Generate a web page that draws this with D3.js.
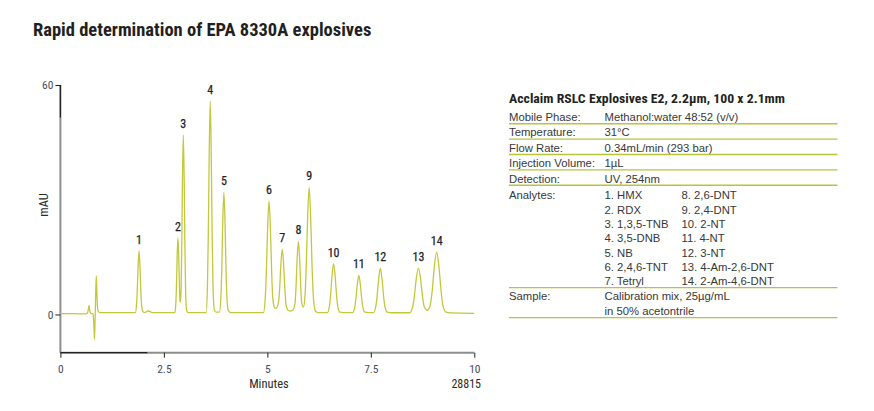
<!DOCTYPE html>
<html><head><meta charset="utf-8">
<script src="https://cdn.jsdelivr.net/npm/d3@7"></script>
<style>
body{margin:0;background:#fff}
svg{display:block}
text{font-family:"Liberation Sans Narrow","Arial Narrow","Roboto Condensed","Liberation Sans",sans-serif}
g.reg text{font-family:"Liberation Sans",Arial,sans-serif}
</style>
</head><body><svg id="c" width="874" height="411"></svg>
<script>
// ---- data ----
const traceMinutes = [0,0.3,0.6,0.655,0.675,0.693,0.71,0.735,0.79,0.808,0.823,0.838,0.853,0.868,0.882,0.897,0.915,0.95,1.3,1.75,
 1.81,1.84,1.858,1.876,1.90,1.924,1.942,1.96,1.99,2.03,2.13,2.22,2.6,
 2.765,2.79,2.805,2.82,2.84,2.86,2.875,2.89,2.90,2.916,2.932,2.948,2.97,2.992,3.008,3.024,3.051,3.09,3.45,
 3.521,3.554,3.574,3.594,3.62,3.646,3.666,3.686,3.719,3.76,3.842,3.878,3.90,3.921,3.95,3.979,4.0,4.022,4.058,4.12,4.8,
 4.905,4.95,4.977,5.004,5.04,5.076,5.103,5.13,5.175,5.21,5.27,5.297,5.324,5.36,5.396,5.423,5.45,5.50,5.56,5.62,5.67,
 5.694,5.718,5.75,5.782,5.806,5.83,5.87,5.91,5.94,5.97,6.01,6.05,6.08,6.11,6.16,6.22,6.45,
 6.50,6.53,6.56,6.60,6.64,6.67,6.70,6.75,6.85,7.06,7.11,7.14,7.17,7.21,7.25,7.28,7.31,7.36,7.45,
 7.565,7.62,7.653,7.686,7.73,7.774,7.807,7.84,7.895,8.0,8.44,8.51,8.552,8.594,8.65,8.706,8.748,8.79,8.87,
 8.94,8.985,9.03,9.09,9.15,9.195,9.24,9.315,9.42,10];
const traceMAU = [0.2,0.2,0.15,0.4,1.3,2.4,0.9,0.3,0.1,-2.5,-6.5,-1.5,5.5,10.1,5.5,1.8,0.8,0.5,0.5,0.5,
 0.5,2.7,6.5,12.2,16.6,12.2,6.5,2.7,0.8,0.5,0.9,0.5,0.5,
 0.5,3.1,7.8,14.7,20.0,14.8,7.9,3.7,3.2,6.8,17.9,34.2,46.9,34.2,17.9,6.8,1.0,0.5,0.5,
 0.5,8.0,21.2,40.6,55.8,40.6,21.2,8.0,1.2,0.6,0.6,4.7,12.3,23.3,31.9,23.3,12.3,4.7,1.0,0.5,0.5,
 0.5,4.4,11.5,21.7,29.7,21.7,11.5,4.4,1.8,1.6,3.2,6.7,12.5,17.1,12.5,6.7,2.7,1.1,0.9,1.2,3.0,
 7.5,14.1,19.2,14.1,7.5,3.0,1.9,4.9,12.8,24.2,33.2,24.2,12.8,4.9,0.9,0.5,0.5,
 2.2,5.3,9.8,13.3,9.8,5.3,2.2,0.6,0.5,0.5,1.8,4.1,7.5,10.2,7.5,4.1,1.8,0.6,0.5,
 0.5,2.1,4.85,8.9,12.1,8.9,4.85,2.1,0.6,0.45,0.45,2.0,4.8,9.0,12.1,9.0,4.8,2.1,1.1,
 2.7,6.4,12.0,16.3,12.0,6.4,2.5,0.6,0.4,0.3];

const peakNumbers = ["1","2","3","4","5","6","7","8","9","10","11","12","13","14"];
const peakMinutes = [1.90,2.84,2.97,3.62,3.95,5.04,5.36,5.75,6.01,6.60,7.21,7.73,8.65,9.09];
const peakMAU = [16.6,20.0,46.9,55.8,31.9,29.7,17.1,19.2,33.2,13.3,10.2,12.1,12.1,16.3];

const xTicks = [0,2.5,5,7.5,10];
const yTicks = [0,60];

const titleText = "Rapid determination of EPA 8330A explosives";
const xLabel = "Minutes";
const yLabel = "mAU";
const figureId = "28815";

const columnTitle = "Acclaim RSLC Explosives E2, 2.2µm, 100 x 2.1mm";
const conditionLabels = ["Mobile Phase:","Temperature:","Flow Rate:","Injection Volume:","Detection:"];
const conditionValues = ["Methanol:water 48:52 (v/v)","31°C","0.34mL/min (293 bar)","1µL","UV, 254nm"];
const analyteLabel = "Analytes:";
const analyteNames = ["1. HMX","2. RDX","3. 1,3,5-TNB","4. 3,5-DNB","5. NB","6. 2,4,6-TNT","7. Tetryl",
  "8. 2,6-DNT","9. 2,4-DNT","10. 2-NT","11. 4-NT","12. 3-NT","13. 4-Am-2,6-DNT","14. 2-Am-4,6-DNT"];
const sampleLabel = "Sample:";
const sampleLines = ["Calibration mix, 25µg/mL","in 50% acetontrile"];

// ---- drawing ----
const svg = d3.select("#c");
const textCol = "#2b2b2b";
const traceCol = "#c3c83a";
const ruleCol = "#b9c43a";

svg.append("text").attr("x",33).attr("y",35.5)
  .attr("font-size",18.5).attr("font-weight","bold").attr("fill","#231f20").text(titleText);

const x = d3.scaleLinear().domain([0,10]).range([60.4,474.3]);
const y = d3.scaleLinear().domain([-10,60]).range([352.7,85]);

// axes
const gx = svg.append("g").attr("transform",`translate(0,${y(-10)})`)
  .call(d3.axisBottom(x).tickValues(xTicks).tickSize(5).tickPadding(7).tickFormat(d3.format("")));
const gy = svg.append("g").attr("transform",`translate(${x(0)},0)`)
  .call(d3.axisLeft(y).tickValues(yTicks).tickSize(5).tickPadding(2));
[gx,gy].forEach(g=>{
  g.select(".domain").attr("stroke","#8e8e8e").attr("stroke-width",2);
  g.selectAll(".tick line").attr("stroke","#222").attr("stroke-width",1);
  g.selectAll(".tick text").attr("fill","#4a4a5a").attr("font-size",11.5);
});
gx.select(".domain").attr("d",`M${x(0)},0H${x(10)}`);
gy.select(".domain").attr("d",`M0,${y(60)}V${y(-10)}`);
// darker segments of the axis lines
svg.append("line").attr("x1",x(0)).attr("x2",x(2.1)).attr("y1",y(-10)).attr("y2",y(-10))
  .attr("stroke","#222").attr("stroke-width",1.2);
svg.append("line").attr("x1",x(0)).attr("x2",x(0)).attr("y1",y(60)).attr("y2",y(51.5))
  .attr("stroke","#222").attr("stroke-width",1.2);

// trace
const pts = traceMinutes.map((t,i)=>[t,traceMAU[i]]);
svg.append("path").datum(pts)
  .attr("fill","none").attr("stroke",traceCol).attr("stroke-width",1.3).attr("stroke-linejoin","round")
  .attr("d",d3.line().x(d=>x(d[0])).y(d=>y(d[1])).curve(d3.curveMonotoneX));

// peak labels
svg.append("g").selectAll("text").data(peakNumbers).join("text")
  .attr("x",(d,i)=>x(peakMinutes[i])).attr("y",(d,i)=>y(peakMAU[i])-7)
  .attr("text-anchor","middle").attr("font-size",12).attr("fill","#1f1f2a")
  .attr("stroke","#1f1f2a").attr("stroke-width",0.25).text(d=>d);

// axis titles
svg.append("text").attr("x",269).attr("y",388).attr("text-anchor","middle")
  .attr("font-size",12.5).attr("fill",textCol).text(xLabel);
svg.append("text").attr("x",481).attr("y",388).attr("text-anchor","end")
  .attr("font-size",12).attr("fill",textCol).text(figureId);
svg.append("text").attr("transform","translate(48,205) rotate(-90)").attr("text-anchor","middle")
  .attr("font-size",12.5).attr("fill",textCol).text(yLabel);

// conditions table
const tx = 509, tv = 604.5, tv2 = 681.5, tr = 837.5;
svg.append("text").attr("x",tx).attr("y",103.3).attr("font-size",13).attr("font-weight","bold")
  .attr("fill","#231f20").attr("textLength",276).attr("lengthAdjust","spacingAndGlyphs").text(columnTitle);
const tbl = svg.append("g").attr("class","reg").attr("font-size",11.3).attr("fill","#383838");
const rowStep = 15.4, firstRule = 123.7;
conditionLabels.forEach((lab,i)=>{
  const ry = firstRule + i*rowStep;
  tbl.append("text").attr("x",tx).attr("y",ry-2.8).text(lab);
  tbl.append("text").attr("x",tv).attr("y",ry-2.8).text(conditionValues[i]);
  tbl.append("line").attr("x1",tx).attr("x2",tr).attr("y1",ry).attr("y2",ry)
    .attr("stroke",ruleCol).attr("stroke-width",1.4);
});
const aStart = 199.3, aStep = 14.33, half = analyteNames.length/2;
tbl.append("text").attr("x",tx).attr("y",aStart).text(analyteLabel);
analyteNames.forEach((n,i)=>{
  const col = i < half ? tv : tv2;
  tbl.append("text").attr("x",col).attr("y",aStart + (i%half)*aStep).text(n);
});
const aRule = aStart + (half-1)*aStep + 2.3;
tbl.append("line").attr("x1",tx).attr("x2",tr).attr("y1",aRule).attr("y2",aRule)
  .attr("stroke",ruleCol).attr("stroke-width",1.4);
tbl.append("text").attr("x",tx).attr("y",aRule+12.7).text(sampleLabel);
sampleLines.forEach((s,i)=>{
  tbl.append("text").attr("x",tv).attr("y",aRule+12.7+i*14.3).text(s);
});
const sRule = aRule + 12.7 + 14.3 + 3;
tbl.append("line").attr("x1",tx).attr("x2",tr).attr("y1",sRule).attr("y2",sRule)
  .attr("stroke",ruleCol).attr("stroke-width",1.4);
</script>
</body></html>
